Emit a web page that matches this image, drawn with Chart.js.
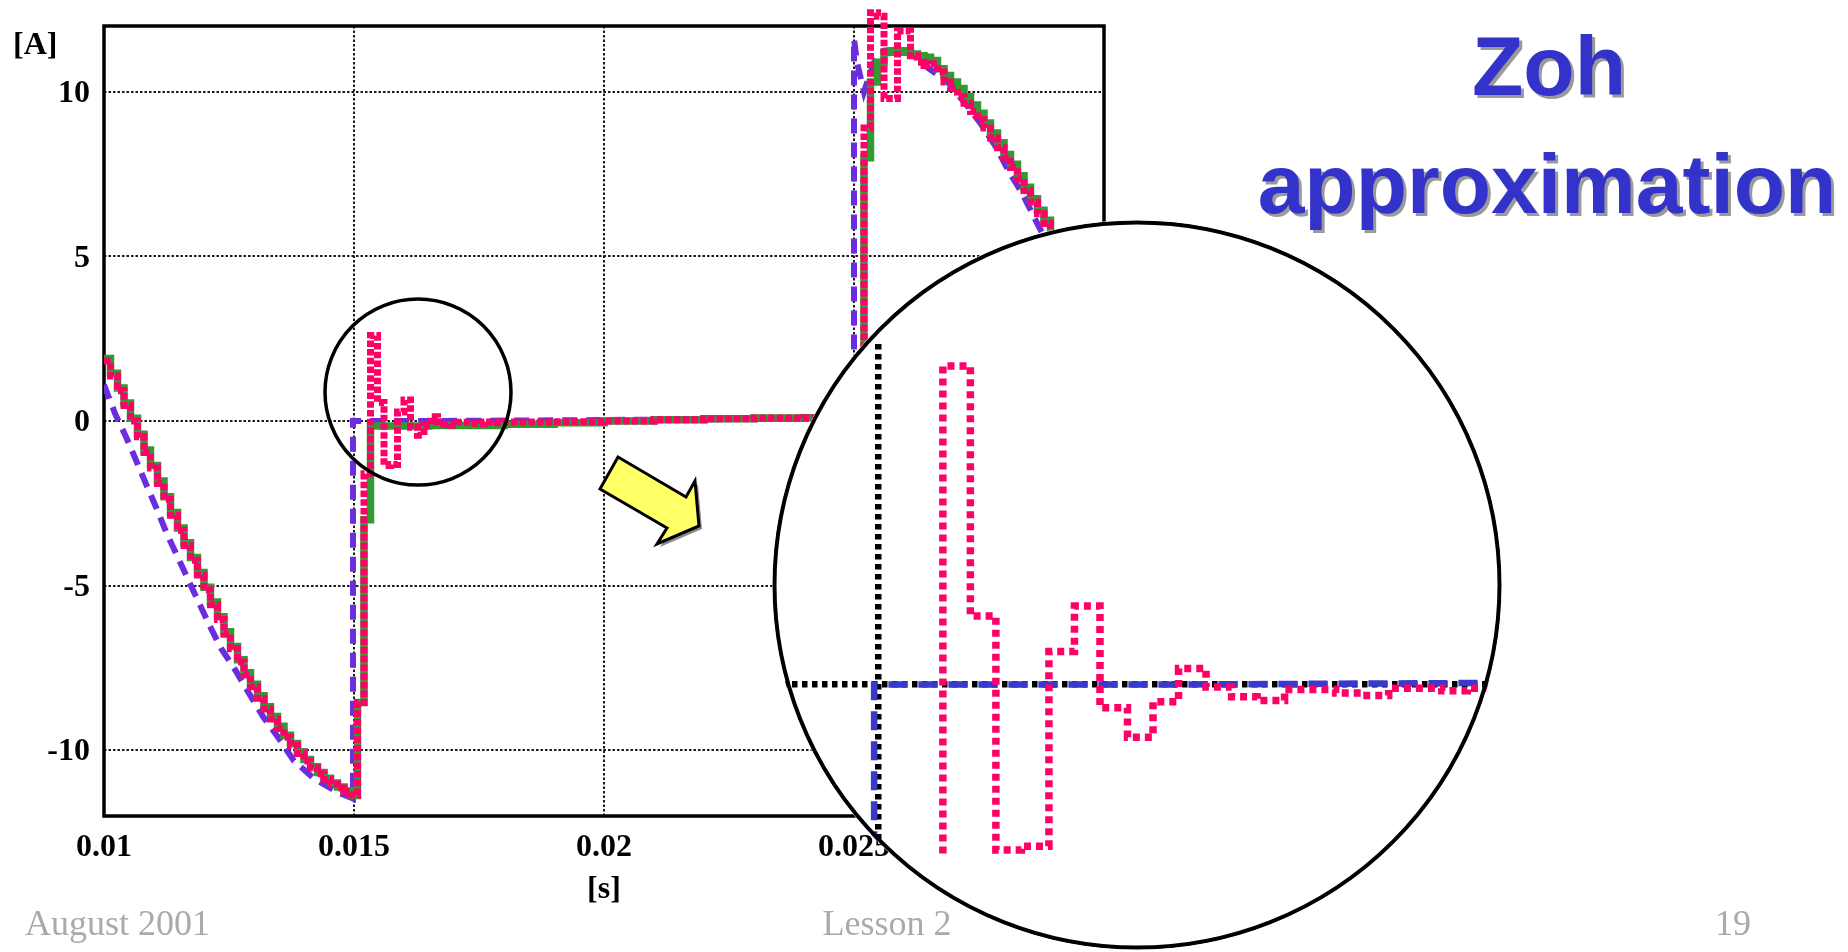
<!DOCTYPE html>
<html>
<head>
<meta charset="utf-8">
<script src="https://cdn.jsdelivr.net/npm/chart.js@4.4.1/dist/chart.umd.min.js"></script>
<style>
  html, body { margin: 0; padding: 0; background: #fff; width: 1848px; height: 952px; overflow: hidden; }
  #main { position: absolute; left: 0; top: 0; }
  #lens { position: absolute; left: 772px; top: 220px; background: #fff; clip-path: circle(365px at 365px 365px); }
</style>
</head>
<body>
<canvas id="main" width="1848" height="952"></canvas>
<canvas id="lens" width="730" height="730"></canvas>
<script>
// ---- axis ticks ----
const xTicks = [0.01, 0.015, 0.02, 0.025, 0.03];
const xTickLabels = ['0.01', '0.015', '0.02', '0.025', '0.03'];
const yTicks = [-10, -5, 0, 5, 10];
const yTickLabels = ['-10', '-5', '0', '5', '10'];

// ---- sampled (zero-order-hold) current, green trace: time [s], current [A] ----
const greenT = [
  0.01000, 0.01013, 0.01027, 0.01040, 0.01053, 0.01067, 0.01080, 0.01093, 0.01107, 0.01120,
  0.01133, 0.01147, 0.01160, 0.01173, 0.01187, 0.01200, 0.01213, 0.01227, 0.01240, 0.01253,
  0.01267, 0.01280, 0.01293, 0.01307, 0.01320, 0.01333, 0.01347, 0.01360, 0.01373, 0.01387,
  0.01400, 0.01413, 0.01427, 0.01440, 0.01453, 0.01467, 0.01480, 0.01493, 0.01507, 0.01520,
  0.01533, 0.01650, 0.01800, 0.01900, 0.02000, 0.02100, 0.02200, 0.02300, 0.02400, 0.02507,
  0.02520, 0.02533, 0.02547, 0.02560, 0.02573, 0.02587, 0.02600, 0.02613, 0.02627, 0.02640,
  0.02653, 0.02667, 0.02680, 0.02693, 0.02707, 0.02720, 0.02733, 0.02747, 0.02760, 0.02773,
  0.02787, 0.02800, 0.02813, 0.02827, 0.02840, 0.02853, 0.02867, 0.02880, 0.02893, 0.02907,
  0.02920, 0.02933, 0.02947, 0.02960, 0.02973, 0.02987, 0.03000
];
const greenI = [
  1.90, 1.45, 1.00, 0.55, 0.08, -0.40, -0.88, -1.35, -1.82, -2.30,
  -2.78, -3.25, -3.70, -4.15, -4.60, -5.05, -5.50, -5.95, -6.40, -6.85,
  -7.25, -7.65, -8.00, -8.35, -8.68, -8.98, -9.27, -9.55, -9.80, -10.05,
  -10.28, -10.50, -10.68, -10.85, -11.00, -11.12, -11.24, -11.38, -8.55, -3.00,
  -0.15, -0.14, -0.10, -0.05, 0.00, 0.04, 0.07, 0.09, 0.10, 0.12,
  8.00, 10.30, 10.90, 11.20, 11.25, 11.25, 11.20, 11.15, 11.10, 11.05,
  10.95, 10.70, 10.50, 10.30, 10.10, 9.85, 9.60, 9.35, 9.05, 8.75,
  8.45, 8.10, 7.80, 7.45, 7.10, 6.75, 6.40, 6.10, 5.70, 5.35,
  5.00, 4.60, 4.20, 3.80, 3.40, 3.00, 2.60
];

// ---- Zoh approximation, pink dotted trace ----
const pinkT = [
  0.01000, 0.01013, 0.01027, 0.01040, 0.01053, 0.01067, 0.01080, 0.01093, 0.01107, 0.01120,
  0.01133, 0.01147, 0.01160, 0.01173, 0.01187, 0.01200, 0.01213, 0.01227, 0.01240, 0.01253,
  0.01267, 0.01280, 0.01293, 0.01307, 0.01320, 0.01333, 0.01347, 0.01360, 0.01373, 0.01387,
  0.01400, 0.01413, 0.01427, 0.01440, 0.01453, 0.01467, 0.01480, 0.01493, 0.01507, 0.01520,
  0.01533, 0.01547, 0.01560, 0.01573, 0.01587, 0.01600, 0.01613, 0.01627, 0.01640, 0.01653,
  0.01667, 0.01680, 0.01693, 0.01707, 0.01720, 0.01733, 0.01747, 0.01760, 0.01773, 0.01787,
  0.01800, 0.01900, 0.02000, 0.02100, 0.02200, 0.02300, 0.02400, 0.02507,
  0.02520, 0.02533, 0.02547, 0.02560, 0.02573, 0.02587, 0.02600, 0.02613, 0.02627, 0.02640,
  0.02653, 0.02667, 0.02680, 0.02693, 0.02707, 0.02720, 0.02733, 0.02747, 0.02760, 0.02773,
  0.02787, 0.02800, 0.02813, 0.02827, 0.02840, 0.02853, 0.02867, 0.02880, 0.02893, 0.02907,
  0.02920, 0.02933, 0.02947, 0.02960, 0.02973, 0.02987, 0.03000
];
const pinkI = [
  1.82, 1.37, 0.92, 0.47, 0.00, -0.48, -0.96, -1.43, -1.90, -2.38,
  -2.86, -3.33, -3.78, -4.23, -4.68, -5.13, -5.58, -6.03, -6.48, -6.92,
  -7.32, -7.72, -8.07, -8.42, -8.75, -9.05, -9.34, -9.61, -9.86, -10.10,
  -10.33, -10.54, -10.72, -10.88, -11.03, -11.15, -11.26, -11.36, -8.55, -1.60,
  2.60, 0.56, -1.35, -1.32, 0.27, 0.64, -0.19, -0.43, -0.14, 0.13,
  -0.02, -0.10, -0.13, -0.04, -0.04, -0.07, -0.09, -0.03, -0.03, -0.05,
  -0.03, -0.02, 0.00, 0.04, 0.07, 0.09, 0.10, 0.12,
  8.90, 12.40, 12.30, 9.80, 9.80, 11.85, 11.85, 11.10, 10.90, 10.80,
  10.85, 10.60, 10.30, 10.10, 9.85, 9.65, 9.40, 9.15, 8.90, 8.60,
  8.30, 8.00, 7.70, 7.35, 7.00, 6.65, 6.30, 6.00, 5.60, 5.25,
  4.90, 4.50, 4.10, 3.70, 3.30, 2.90, 2.50
];

// ---- continuous reference current, dashed trace ----
const blueT = [
  0.01000, 0.01022, 0.01044, 0.01064, 0.01085, 0.01105, 0.01125, 0.01147, 0.01180, 0.01212,
  0.01234, 0.01264, 0.01291, 0.01319, 0.01351, 0.01380, 0.01420, 0.01469, 0.01498, 0.01498,
  0.01650, 0.01900, 0.02200, 0.02500, 0.02500, 0.02506, 0.02520, 0.02540, 0.02560, 0.02600,
  0.02620, 0.02641, 0.02669, 0.02690, 0.02725, 0.02755, 0.02785, 0.02809, 0.02837, 0.02860,
  0.02900, 0.02950, 0.03000
];
const blueI = [
  1.10, 0.23, -0.48, -1.19, -1.95, -2.65, -3.40, -4.12, -5.20, -6.24,
  -6.90, -7.60, -8.30, -9.00, -9.67, -10.33, -10.86, -11.29, -11.47, 0.00,
  0.00, 0.02, 0.05, 0.10, 11.60, 10.90, 10.00, 10.90, 11.25, 11.30,
  11.10, 10.80, 10.50, 10.25, 9.60, 9.00, 8.30, 7.60, 6.90, 6.20,
  5.00, 3.20, 1.40
];

// centre of the highlighted region around the commutation at 15 ms
const focusT = 0.01628;
const focusI = 0.88;

const pts = (T, I) => T.map((t, i) => ({ x: t, y: I[i] }));
const serif = '"Liberation Serif", "Times New Roman", serif';
const sans = '"Liberation Sans", Arial, sans-serif';
const tickFont = { family: serif, size: 32, weight: 'bold' };

// solid frame around the plot area
const frame = {
  id: 'frame',
  beforeDatasetsDraw(chart) {
    const { ctx, chartArea: a } = chart;
    ctx.save();
    ctx.lineWidth = 3.5;
    ctx.strokeStyle = '#000';
    ctx.strokeRect(a.left, a.top, a.right - a.left, a.bottom - a.top);
    ctx.restore();
  }
};

// highlight circle, pointer arrow and slide texts
const slideDecor = {
  id: 'slideDecor',
  afterDatasetsDraw(chart) {
    const { ctx, scales } = chart;
    const cx = scales.x.getPixelForValue(focusT);
    const cy = scales.y.getPixelForValue(focusI);
    ctx.save();
    ctx.lineWidth = 3.5;
    ctx.strokeStyle = '#000';
    ctx.beginPath();
    ctx.arc(cx, cy, 93, 0, Math.PI * 2);
    ctx.stroke();

    // yellow arrow
    const arrow = [[600, 489], [618, 457], [686, 497], [695, 481], [699, 526], [657, 544], [667, 528]];
    ctx.beginPath();
    arrow.forEach(([x, y], i) => (i ? ctx.lineTo(x, y) : ctx.moveTo(x, y)));
    ctx.closePath();
    ctx.shadowColor = 'rgba(0,0,0,0.45)';
    ctx.shadowOffsetX = 3;
    ctx.shadowOffsetY = 3;
    ctx.fillStyle = '#FFFF66';
    ctx.fill();
    ctx.shadowColor = 'transparent';
    ctx.lineWidth = 3;
    ctx.lineJoin = 'miter';
    ctx.stroke();
    ctx.restore();
  },
  afterDraw(chart) {
    const { ctx } = chart;
    ctx.save();
    // unit label of the current axis
    ctx.fillStyle = '#000';
    ctx.font = 'bold 32px ' + serif;
    ctx.textAlign = 'left';
    ctx.textBaseline = 'middle';
    ctx.fillText('[A]', 13, 46);

    // title
    ctx.font = 'bold 84px ' + sans;
    ctx.textAlign = 'center';
    ctx.textBaseline = 'alphabetic';
    ctx.shadowColor = '#9a9a9a';
    ctx.shadowOffsetX = 3;
    ctx.shadowOffsetY = 3;
    ctx.fillStyle = '#3333CC';
    ctx.fillText('Zoh', 1549, 95);
    ctx.fillText('approximation', 1547, 213);
    ctx.shadowColor = 'transparent';

    // footer
    ctx.font = '36px ' + serif;
    ctx.fillStyle = '#aaaaaa';
    ctx.textAlign = 'left';
    ctx.fillText('August 2001', 25, 935);
    ctx.textAlign = 'center';
    ctx.fillText('Lesson 2', 887, 935);
    ctx.textAlign = 'right';
    ctx.fillText('19', 1751, 935);
    ctx.restore();
  }
};

new Chart(document.getElementById('main'), {
  type: 'line',
  data: {
    datasets: [
      { data: pts(pinkT, pinkI), borderColor: '#FF0066', borderWidth: 7, borderDash: [6.5, 2.2],
        stepped: true, pointRadius: 0, clip: false, borderCapStyle: 'butt' },
      { data: pts(greenT, greenI), borderColor: '#339933', borderWidth: 7.5,
        stepped: true, pointRadius: 0 },
      { data: pts(blueT, blueI), borderColor: '#6a2ee0', borderWidth: 6, borderDash: [15, 9],
        tension: 0, pointRadius: 0 }
    ]
  },
  options: {
    responsive: false,
    animation: false,
    devicePixelRatio: 1,
    events: [],
    parsing: false,
    layout: { padding: { left: 0, top: 26, right: 744, bottom: 0 } },
    plugins: { legend: { display: false }, tooltip: { enabled: false } },
    scales: {
      x: {
        type: 'linear', min: 0.01, max: 0.03,
        afterBuildTicks(s) { s.ticks = xTicks.map(v => ({ value: v })); },
        afterFit(s) { s.height = 136; s.paddingLeft = 0; s.paddingRight = 0; },
        ticks: { autoSkip: false, maxRotation: 0, minRotation: 0, padding: 13, color: '#000',
                 font: tickFont, callback: (v, i) => xTickLabels[i] },
        grid: { drawTicks: false, lineWidth: 2,
                color: c => (c.index === 0 || c.index === xTicks.length - 1) ? 'rgba(0,0,0,0)' : '#1a1a1a' },
        border: { display: false, dash: [2.5, 2] },
        title: { display: true, text: '[s]', color: '#000', font: tickFont, padding: { top: 0, bottom: 43 } }
      },
      y: {
        type: 'linear', min: -12, max: 12,
        afterBuildTicks(s) { s.ticks = yTicks.map(v => ({ value: v })); },
        afterFit(s) { s.width = 104; s.paddingTop = 0; s.paddingBottom = 0; },
        ticks: { padding: 14, color: '#000', font: tickFont, labelOffset: 2,
                 callback: (v, i) => yTickLabels[i] },
        grid: { drawTicks: false, lineWidth: 2, color: '#1a1a1a' },
        border: { display: false, dash: [2.5, 2] }
      }
    }
  },
  plugins: [frame, slideDecor]
});

// magnified view of the commutation transient
const ring = {
  id: 'ring',
  afterDraw(chart) {
    const { ctx, width } = chart;
    const r = width / 2;
    ctx.save();
    ctx.lineWidth = 4;
    ctx.strokeStyle = '#000';
    ctx.beginPath();
    ctx.arc(r, r, r - 2.5, 0, Math.PI * 2);
    ctx.stroke();
    ctx.restore();
  }
};

const lensGrid = { drawTicks: false, lineWidth: 6.5, color: '#000' };
new Chart(document.getElementById('lens'), {
  type: 'line',
  data: {
    datasets: [
      { data: pts(pinkT, pinkI), borderColor: '#FF0066', borderWidth: 7.5, borderDash: [7, 5],
        stepped: true, pointRadius: 0, borderCapStyle: 'butt' },
      { data: pts(blueT, blueI), borderColor: '#3939CC', borderWidth: 6.5, borderDash: [19, 11],
        tension: 0, pointRadius: 0 }
    ]
  },
  options: {
    responsive: false,
    animation: false,
    devicePixelRatio: 1,
    events: [],
    parsing: false,
    layout: { padding: { left: 0, right: 0, top: 124, bottom: 94 } },
    plugins: { legend: { display: false }, tooltip: { enabled: false } },
    scales: {
      x: {
        type: 'linear', min: 0.01446, max: 0.018177,
        afterBuildTicks(s) { s.ticks = [{ value: 0.015 }]; },
        afterFit(s) { s.height = 0; s.paddingLeft = 0; s.paddingRight = 0; },
        ticks: { display: false },
        grid: lensGrid,
        border: { display: false, dash: [5.5, 4.5] }
      },
      y: {
        type: 'linear', min: -1.40, max: 2.78,
        afterBuildTicks(s) { s.ticks = [{ value: 0 }]; },
        afterFit(s) { s.width = 0; s.paddingTop = 0; s.paddingBottom = 0; },
        ticks: { display: false },
        grid: lensGrid,
        border: { display: false, dash: [5.5, 4.5] }
      }
    }
  },
  plugins: [ring]
});
</script>
</body>
</html>
